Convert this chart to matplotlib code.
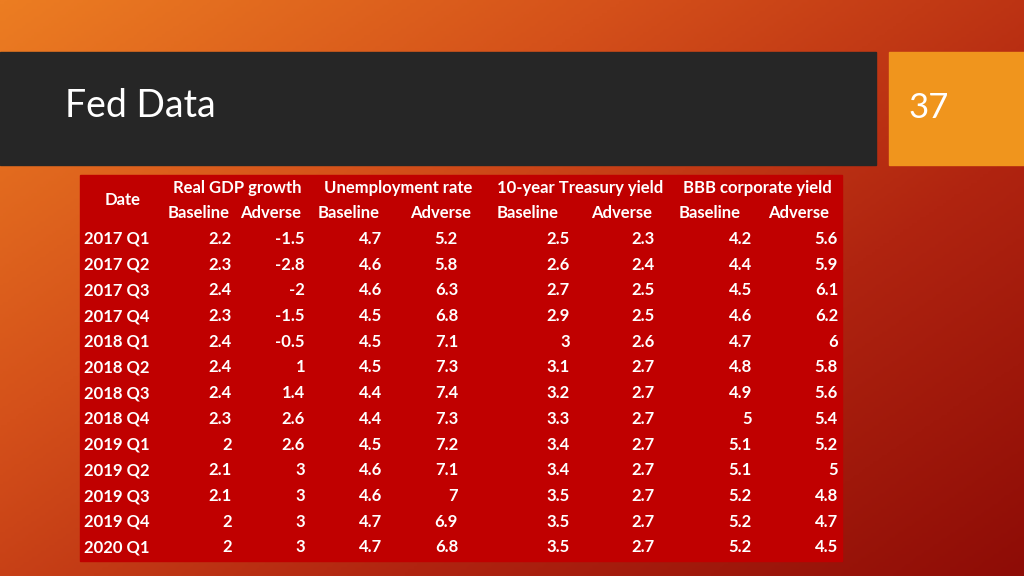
import numpy as np
import matplotlib
matplotlib.use("Agg")
import matplotlib.pyplot as plt
from matplotlib.patches import Rectangle
from matplotlib.colors import LinearSegmentedColormap

matplotlib.rcParams["font.family"] = ["Lato", "DejaVu Sans"]

dates = ["2017 Q1", "2017 Q2", "2017 Q3", "2017 Q4", "2018 Q1", "2018 Q2", "2018 Q3",
         "2018 Q4", "2019 Q1", "2019 Q2", "2019 Q3", "2019 Q4", "2020 Q1"]
gdp_base = ["2.2", "2.3", "2.4", "2.3", "2.4", "2.4", "2.4", "2.3", "2", "2.1", "2.1", "2", "2"]
gdp_adv = ["-1.5", "-2.8", "-2", "-1.5", "-0.5", "1", "1.4", "2.6", "2.6", "3", "3", "3", "3"]
unemp_base = ["4.7", "4.6", "4.6", "4.5", "4.5", "4.5", "4.4", "4.4", "4.5", "4.6", "4.6", "4.7", "4.7"]
unemp_adv = ["5.2", "5.8", "6.3", "6.8", "7.1", "7.3", "7.4", "7.3", "7.2", "7.1", "7", "6.9", "6.8"]
tsy_base = ["2.5", "2.6", "2.7", "2.9", "3", "3.1", "3.2", "3.3", "3.4", "3.4", "3.5", "3.5", "3.5"]
tsy_adv = ["2.3", "2.4", "2.5", "2.5", "2.6", "2.7", "2.7", "2.7", "2.7", "2.7", "2.7", "2.7", "2.7"]
bbb_base = ["4.2", "4.4", "4.5", "4.6", "4.7", "4.8", "4.9", "5", "5.1", "5.1", "5.2", "5.2", "5.2"]
bbb_adv = ["5.6", "5.9", "6.1", "6.2", "6", "5.8", "5.6", "5.4", "5.2", "5", "4.8", "4.7", "4.5"]

groups = ["Real GDP growth", "Unemployment rate", "10-year Treasury yield", "BBB corporate yield"]
subheads = ["Baseline", "Adverse"] * 4
columns = [gdp_base, gdp_adv, unemp_base, unemp_adv, tsy_base, tsy_adv, bbb_base, bbb_adv]

fig = plt.figure(figsize=(10.24, 5.76), dpi=100)
ax = fig.add_axes([0, 0, 1, 1])
ax.set_xlim(0, 1024)
ax.set_ylim(576, 0)
ax.axis("off")

# background gradient (orange top-left to dark red bottom-right)
cmap = LinearSegmentedColormap.from_list("bg", ["#ec7d22", "#d4501a", "#b02410", "#8e0c06"])
yy, xx = np.mgrid[0:1:200j, 0:1:360j]
ax.imshow(0.55 * xx + 0.45 * yy, cmap=cmap, extent=[0, 1024, 576, 0], aspect="auto", zorder=0)

# title bar and page number box
ax.add_patch(Rectangle((0, 52), 876, 113, color="#262626", zorder=1))
ax.add_patch(Rectangle((889, 52), 135, 113, color="#f0951d", zorder=1))
ax.text(65, 106, "Fed Data", color="white", fontsize=27, va="center", ha="left", zorder=2)
ax.text(929, 108, "37", color="white", fontsize=25, va="center", ha="center", zorder=2)

# table
ax.add_patch(Rectangle((80, 175), 762, 386, color="#c00000", zorder=1))
kw = dict(color="white", fontsize=12, fontweight="bold", va="center", zorder=2)
ax.text(123, 200, "Date", ha="center", **kw)
for g, cx in zip(groups, [237, 398, 580, 757]):
    ax.text(cx, 188, g, ha="center", **kw)
for s, cx in zip(subheads, [199, 271, 349, 441, 528, 622, 710, 799]):
    ax.text(cx, 213, s, ha="center", **kw)

right_edges = [232, 305, 382, 458, 570, 655, 752, 838]
y0, dy = 239, 25.7
for i, d in enumerate(dates):
    y = y0 + i * dy
    ax.text(84, y, d, ha="left", **kw)
    for col, rx in zip(columns, right_edges):
        ax.text(rx, y, col[i], ha="right", **kw)

fig.savefig("out.png", dpi=100)
